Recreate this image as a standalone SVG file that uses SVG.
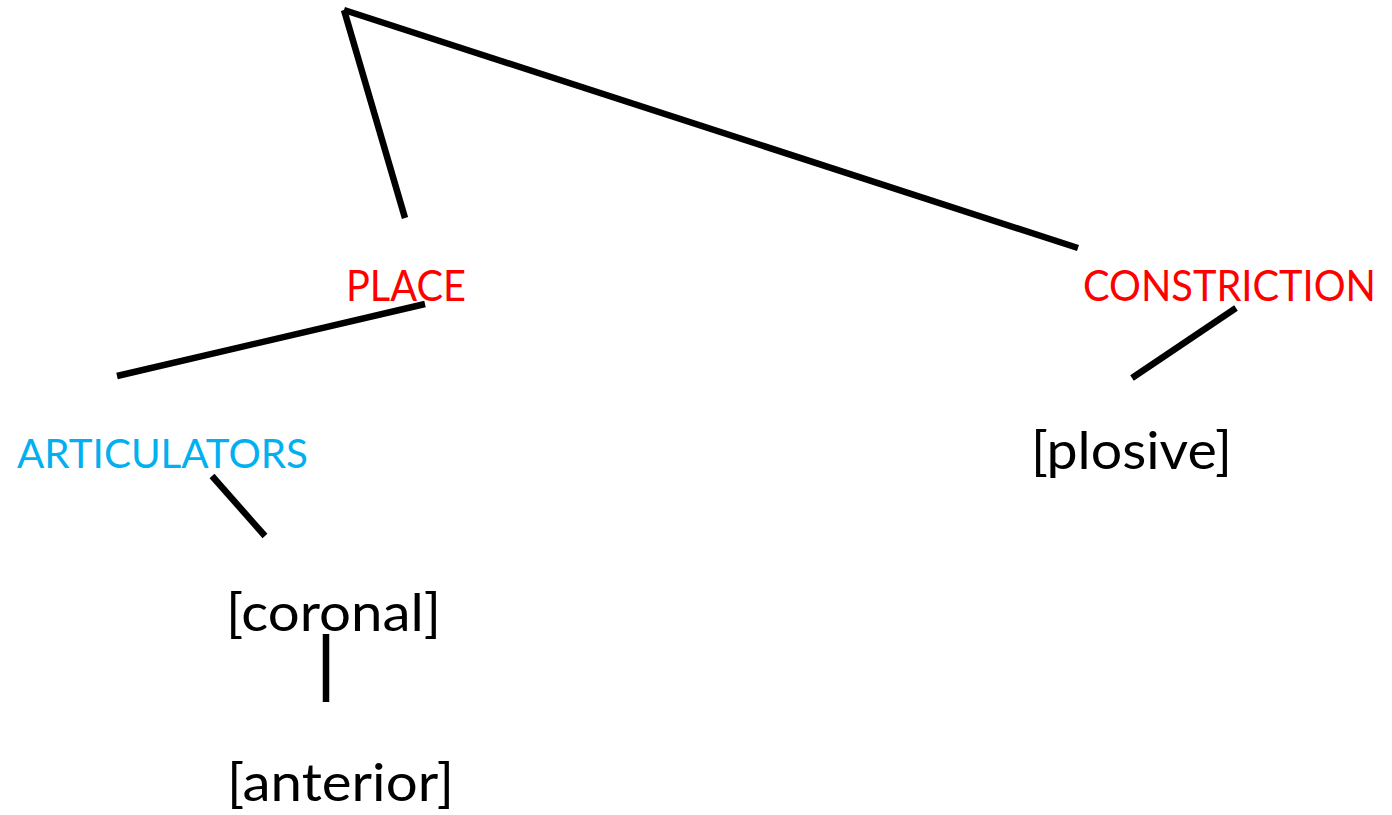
<svg xmlns="http://www.w3.org/2000/svg" width="1392" height="815" viewBox="0 0 1392 815">
<style>
.t{font-family:Lato,"Liberation Sans",sans-serif;}
.red{fill:#FF0000;font-size:42px;}
.blue{fill:#00B0F0;font-size:41px;}
.blk{fill:#000000;font-size:52px;}
.c line{stroke:#000;stroke-width:6.5;stroke-linecap:butt;}
</style>
<rect width="1392" height="815" fill="#fff"/>
<g class="c" id="connectors">
<line x1="344" y1="10" x2="405" y2="218"/>
<line x1="344" y1="10" x2="1078" y2="248"/>
<line x1="425" y1="304" x2="117" y2="376"/>
<line x1="1236" y1="308" x2="1132" y2="378"/>
<line x1="212" y1="476" x2="265" y2="536"/>
<line x1="326" y1="634" x2="326" y2="702"/>
</g>
<g id="place"><text class="t red" x="346" y="301" textLength="120" lengthAdjust="spacingAndGlyphs">PLACE</text></g>
<g id="constriction"><text class="t red" x="1083" y="301" textLength="293" lengthAdjust="spacingAndGlyphs">CONSTRICTION</text></g>
<g id="articulators"><text class="t blue" x="17" y="468" textLength="291" lengthAdjust="spacingAndGlyphs">ARTICULATORS</text></g>
<g id="plosive"><text class="t blk" x="1031" y="469" textLength="201" lengthAdjust="spacingAndGlyphs">[plosive]</text></g>
<g id="coronal"><text class="t blk" x="226" y="631" textLength="215" lengthAdjust="spacingAndGlyphs">[coronal]</text></g>
<g id="anterior"><text class="t blk" x="227" y="801" textLength="227" lengthAdjust="spacingAndGlyphs">[anterior]</text></g>
</svg>
